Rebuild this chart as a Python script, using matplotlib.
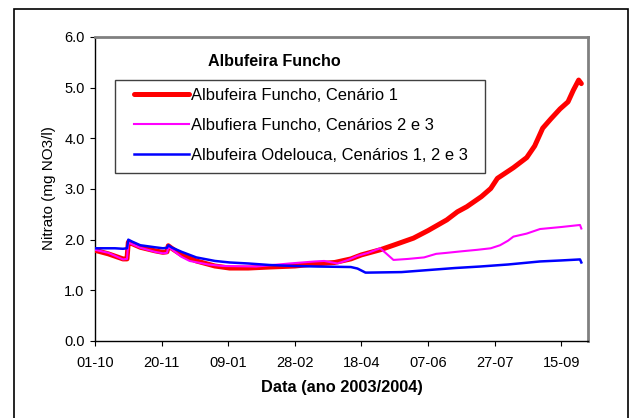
import matplotlib
matplotlib.use("Agg")
import matplotlib.pyplot as plt
from matplotlib.patches import Rectangle

plt.rcParams['font.family'] = ['Liberation Sans', 'DejaVu Sans']

# days since 2003-10-01
tick_days = [0, 50, 100, 150, 200, 250, 300, 350]
tick_labels = ['01-10', '20-11', '09-01', '28-02', '18-04', '07-06', '27-07', '15-09']

red_days = [0, 10, 21, 24, 25, 27, 34, 45, 51, 54, 55, 57, 65, 76, 90, 101, 115, 131,
            150, 165, 180, 192, 200, 214, 225, 239, 250, 264, 272, 279, 290, 297, 302,
            314, 324, 330, 336, 342, 349, 355, 359, 363, 365]
red_vals = [1.79, 1.72, 1.62, 1.62, 1.95, 1.93, 1.85, 1.78, 1.75, 1.76, 1.88, 1.84, 1.70,
            1.58, 1.48, 1.44, 1.44, 1.46, 1.48, 1.52, 1.55, 1.62, 1.70, 1.80, 1.90, 2.03,
            2.18, 2.39, 2.55, 2.65, 2.85, 3.01, 3.21, 3.42, 3.62, 3.85, 4.20, 4.38, 4.58,
            4.72, 4.95, 5.15, 5.08]

pink_days = [0, 10, 21, 24, 25, 27, 34, 45, 51, 54, 55, 57, 65, 71, 85, 96, 121, 146,
             165, 172, 182, 190, 197, 205, 214, 218, 224, 235, 247, 256, 264, 275, 287,
             297, 304, 310, 314, 324, 334, 350, 364, 365]
pink_vals = [1.80, 1.74, 1.61, 1.62, 1.94, 1.92, 1.84, 1.76, 1.73, 1.74, 1.85, 1.82, 1.66,
             1.58, 1.51, 1.48, 1.47, 1.53, 1.57, 1.58, 1.53, 1.60, 1.68, 1.74, 1.83, 1.74,
             1.60, 1.62, 1.65, 1.72, 1.74, 1.77, 1.80, 1.83, 1.89, 1.98, 2.06, 2.12, 2.21,
             2.25, 2.29, 2.22]

blue_days = [0, 15, 21, 24, 25, 28, 34, 45, 51, 54, 55, 58, 65, 76, 90, 101, 115, 131,
             150, 167, 192, 197, 203, 205, 230, 250, 270, 289, 310, 334, 350, 364, 365]
blue_vals = [1.83, 1.83, 1.82, 1.83, 2.00, 1.96, 1.89, 1.85, 1.83, 1.84, 1.89, 1.84, 1.76,
             1.65, 1.58, 1.55, 1.53, 1.50, 1.48, 1.47, 1.46, 1.43, 1.35, 1.35, 1.36, 1.40,
             1.44, 1.47, 1.51, 1.57, 1.59, 1.61, 1.55]

labels = ['Albufeira Funcho, Cenário 1', 'Albufiera Funcho, Cenários 2 e 3',
          'Albufeira Odelouca, Cenários 1, 2 e 3']

fig = plt.figure(figsize=(6.33, 4.18), dpi=100)
ax = fig.add_axes([95/633, 1 - 341/418, (588-95)/633, (341-37)/418])

# outer frame
fig.patches.append(Rectangle((13.5/633, -0.1), (628-13.5)/633, 0.1 + (418-9)/418,
                             transform=fig.transFigure, fill=False, edgecolor='black',
                             linewidth=1.2))

l1, = ax.plot(red_days, red_vals, color='#FF0000', lw=3.6, solid_capstyle='round', zorder=3)
l2, = ax.plot(pink_days, pink_vals, color='#FF00FF', lw=1.5, zorder=4)
l3, = ax.plot(blue_days, blue_vals, color='#0000FF', lw=1.8, zorder=5)

ax.set_xlim(0, 370)
ax.set_ylim(0, 6)
ax.set_xticks(tick_days)
ax.set_xticklabels(tick_labels)
ax.set_yticks([0, 1, 2, 3, 4, 5, 6])
ax.set_yticklabels(['0.0', '1.0', '2.0', '3.0', '4.0', '5.0', '6.0'])
ax.tick_params(axis='both', direction='out', length=3.5, width=0.8, labelsize=10.5, color='black')
ax.tick_params(axis='y', pad=4)
ax.tick_params(axis='x', pad=7)

for s in ['top', 'right']:
    ax.spines[s].set_color('#808080')
    ax.spines[s].set_linewidth(2)
for s in ['left', 'bottom']:
    ax.spines[s].set_color('black')
    ax.spines[s].set_linewidth(1)

ax.set_xlabel('Data (ano 2003/2004)', fontsize=11.8, fontweight='bold')
ax.xaxis.set_label_coords(0.5, -0.128)
ax.set_ylabel('Nitrato (mg NO3/l)', fontsize=11)
ax.yaxis.set_label_coords(-0.079, 0.503)

ax.text((274-95)/493, (341-62)/304, 'Albufeira Funcho', transform=ax.transAxes,
        ha='center', va='center', fontsize=11.6, fontweight='bold')

# legend frame
ax.add_patch(Rectangle(((115-95)/493, (341-173)/304), (485-115)/493, (173-80)/304,
                       transform=ax.transAxes, fill=True, facecolor='white',
                       edgecolor='#404040', linewidth=1.0, zorder=6))

leg = ax.legend([l1, l2, l3], labels, loc='upper left',
                bbox_to_anchor=((134-95)/493, (341-88)/304),
                fontsize=11.9, frameon=False, borderaxespad=0, borderpad=0,
                handlelength=3.3, handletextpad=0.15, labelspacing=0.9)
leg.set_zorder(7)

fig.savefig('out.png', dpi=100)
